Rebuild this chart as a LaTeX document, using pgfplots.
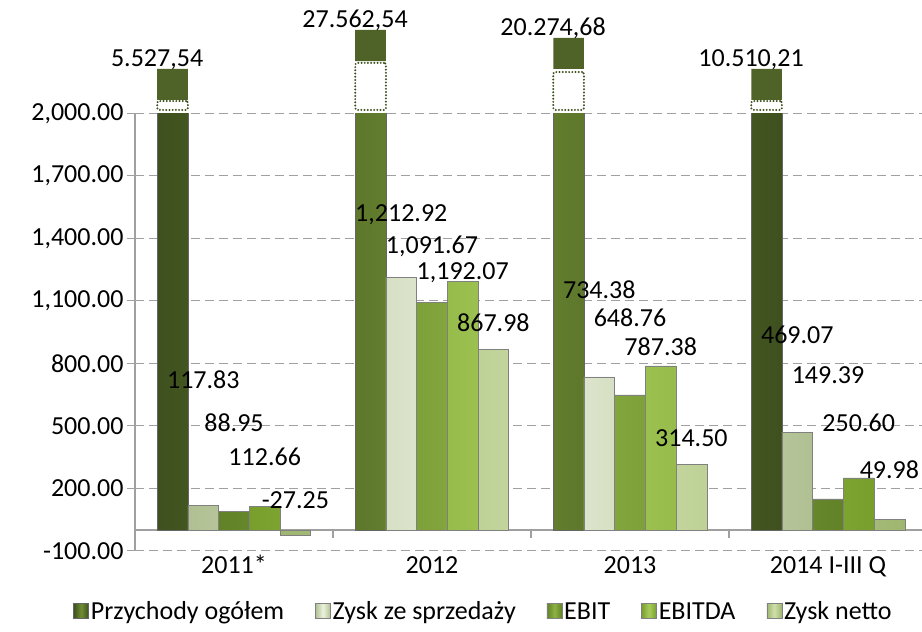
\documentclass[border=0pt]{standalone}
\usepackage{fontspec}
\setmainfont{Carlito}
\usepackage{pgfplots}
\usepackage{pgfplotstable}
\pgfplotsset{compat=1.18}

\definecolor{przD}{RGB}{62,80,30}
\definecolor{przL}{RGB}{112,142,52}
\definecolor{block}{RGB}{79,98,40}
\definecolor{zysD}{RGB}{176,192,146}
\definecolor{zysL}{RGB}{236,242,224}
\definecolor{ebitD}{RGB}{98,130,40}
\definecolor{ebitL}{RGB}{142,178,68}
\definecolor{ebdaD}{RGB}{120,158,44}
\definecolor{ebdaL}{RGB}{168,205,94}
\definecolor{netD}{RGB}{158,182,112}
\definecolor{netL}{RGB}{208,224,172}
\definecolor{axgray}{RGB}{160,160,160}

\newcommand{\f}{\fontsize{26}{31}\selectfont}

% Przychody ogolem (real values; bars cut at 2000 by the axis)
\pgfplotstableread{
x y
0 5527.54
1 27562.54
2 20274.68
3 10510.21
}\prz
% ys = label baseline offset above the bar end (pt)
\pgfplotstableread{
x y ys
0 117.83 117.2
1 1212.92 56.0
2 734.38 78.7
3 469.07 89.0
}\zys
\pgfplotstableread{
x y ys
0 88.95 80.2
1 1091.67 49.3
2 648.76 68.5
3 149.39 115.6
}\ebit
\pgfplotstableread{
x y ys
0 112.66 41.2
1 1192.07 2.4
2 787.38 10.7
3 250.60 46.5
}\ebitda
\pgfplotstableread{
x y ys
0 -27.25 27.4
1 867.98 17.9
2 314.50 18.2
3 49.98 41.3
}\netto
% axis-break marks above the cut Przychody bars
\pgfplotstableread{
x base dot gap blk lab
0 2016 43 5 149 5.527,54
1 2016 226 9 149 27.562,54
2 2016 182 15 149 20.274,68
3 2016 43 5 149 10.510,21
}\brk

\pgfplotsset{
  myleg/.style={legend image code/.code={\draw[##1, line width=0.5pt] (0pt,-7pt) rectangle (15pt,8pt);}},
  lab/.style={nodes near coords, nodes near coords align={center}, point meta=y,
    visualization depends on={\thisrow{ys} \as \ys},
    every node near coord/.append style={font=\f, text=black, anchor=base, inner sep=0pt, yshift=\ys*1pt,
      /pgf/number format/fixed, /pgf/number format/fixed zerofill, /pgf/number format/precision=2,
      /pgf/number format/1000 sep={,}, /pgf/number format/assume math mode=true}},
}

\begin{document}
\begin{tikzpicture}
% overlay axis: x axis line at 0 with category ticks and names, and the break marks
\begin{axis}[
  at={(0pt,0pt)}, anchor=south west,
  width=792pt, height=437.5pt, scale only axis,
  xmin=-0.5, xmax=3.5, ymin=-100, ymax=2000, clip=false,
  ybar stacked, bar width=30.7pt,
  axis x line=middle, axis y line=none,
  x axis line style={-, axgray, line width=1.2pt},
  xtick={0.5,1.5,2.5}, xticklabels={}, xtick style={axgray, line width=1.2pt},
  tick align=outside, major tick length=8pt,
  extra x ticks={0,1,2,3},
  extra x tick labels={2011*,2012,2013,2014 I-III Q},
  extra x tick style={major tick length=0pt, tick style={draw=none},
    xticklabel style={font=\f, text=black, anchor=base, inner sep=0pt, yshift=-43.3pt}},
  ytick=\empty,
]
\addplot[bar shift=-61.4pt, draw=none, fill=none] table[x=x,y=base]{\brk};
\addplot[bar shift=-61.4pt, draw=przD, fill=white, line width=2.2pt, dash pattern=on 0pt off 3.2pt, line cap=round, rounded corners=2pt] table[x=x,y=dot]{\brk};
\addplot[bar shift=-61.4pt, draw=none, fill=none] table[x=x,y=gap]{\brk};
\addplot[bar shift=-61.4pt, draw=none, fill=block, nodes near coords, point meta=explicit symbolic,
  every node near coord/.append style={font=\f, text=black, anchor=base, inner sep=0pt, yshift=17.5pt, xshift=-15.5pt}]
  table[x=x,y=blk,meta=lab]{\brk};
\end{axis}

\begin{axis}[
  at={(0pt,0pt)}, anchor=south west,
  width=792pt, height=437.5pt, scale only axis,
  xmin=-0.5, xmax=3.5, ymin=-100, ymax=2000,
  ybar, bar width=30.7pt,
  axis x line=none, axis y line*=left, hide x axis,
  axis line style={draw=none},
  y axis line style={draw=axgray, line width=1.2pt},
  ytick={-100,200,...,2000}, scaled y ticks=false,
  ymajorgrids, major grid style={axgray, line width=1.2pt, dash pattern=on 9pt off 5pt},
  ytick style={axgray, line width=1.2pt},
  tick align=outside, major tick length=8pt,
  tick label style={font=\f, text=black},
  yticklabel style={/pgf/number format/fixed, /pgf/number format/fixed zerofill,
    /pgf/number format/precision=2, /pgf/number format/1000 sep={,},
    /pgf/number format/assume math mode=true},
  legend style={at={(0.440,-0.139)}, anchor=center, draw=none, fill=none, font=\f,
    /tikz/every even column/.append style={column sep=29pt}},
  legend columns=-1,
]
\addplot[bar shift=-61.4pt, draw=black!60, line width=0.5pt, left color=przD, right color=przD, middle color=przL, myleg]
  table[x=x,y=y]{\prz};
\addlegendentry{Przychody ogółem}
\addplot[bar shift=-30.7pt, draw=black!50, line width=0.5pt, left color=zysD, right color=zysD, middle color=zysL, myleg, lab]
  table[x=x,y=y]{\zys};
\addlegendentry{Zysk ze sprzedaży}
\addplot[bar shift=0pt, draw=black!50, line width=0.5pt, left color=ebitD, right color=ebitD, middle color=ebitL, myleg, lab]
  table[x=x,y=y]{\ebit};
\addlegendentry{EBIT}
\addplot[bar shift=30.7pt, draw=black!50, line width=0.5pt, left color=ebdaD, right color=ebdaD, middle color=ebdaL, myleg, lab]
  table[x=x,y=y]{\ebitda};
\addlegendentry{EBITDA}
\addplot[bar shift=61.4pt, draw=black!50, line width=0.5pt, left color=netD, right color=netD, middle color=netL, myleg, lab]
  table[x=x,y=y]{\netto};
\addlegendentry{Zysk netto}
\end{axis}
\pgfresetboundingbox
\path[use as bounding box] (-135pt,-81.2pt) rectangle (787pt,550.8pt);
\end{tikzpicture}
\end{document}
